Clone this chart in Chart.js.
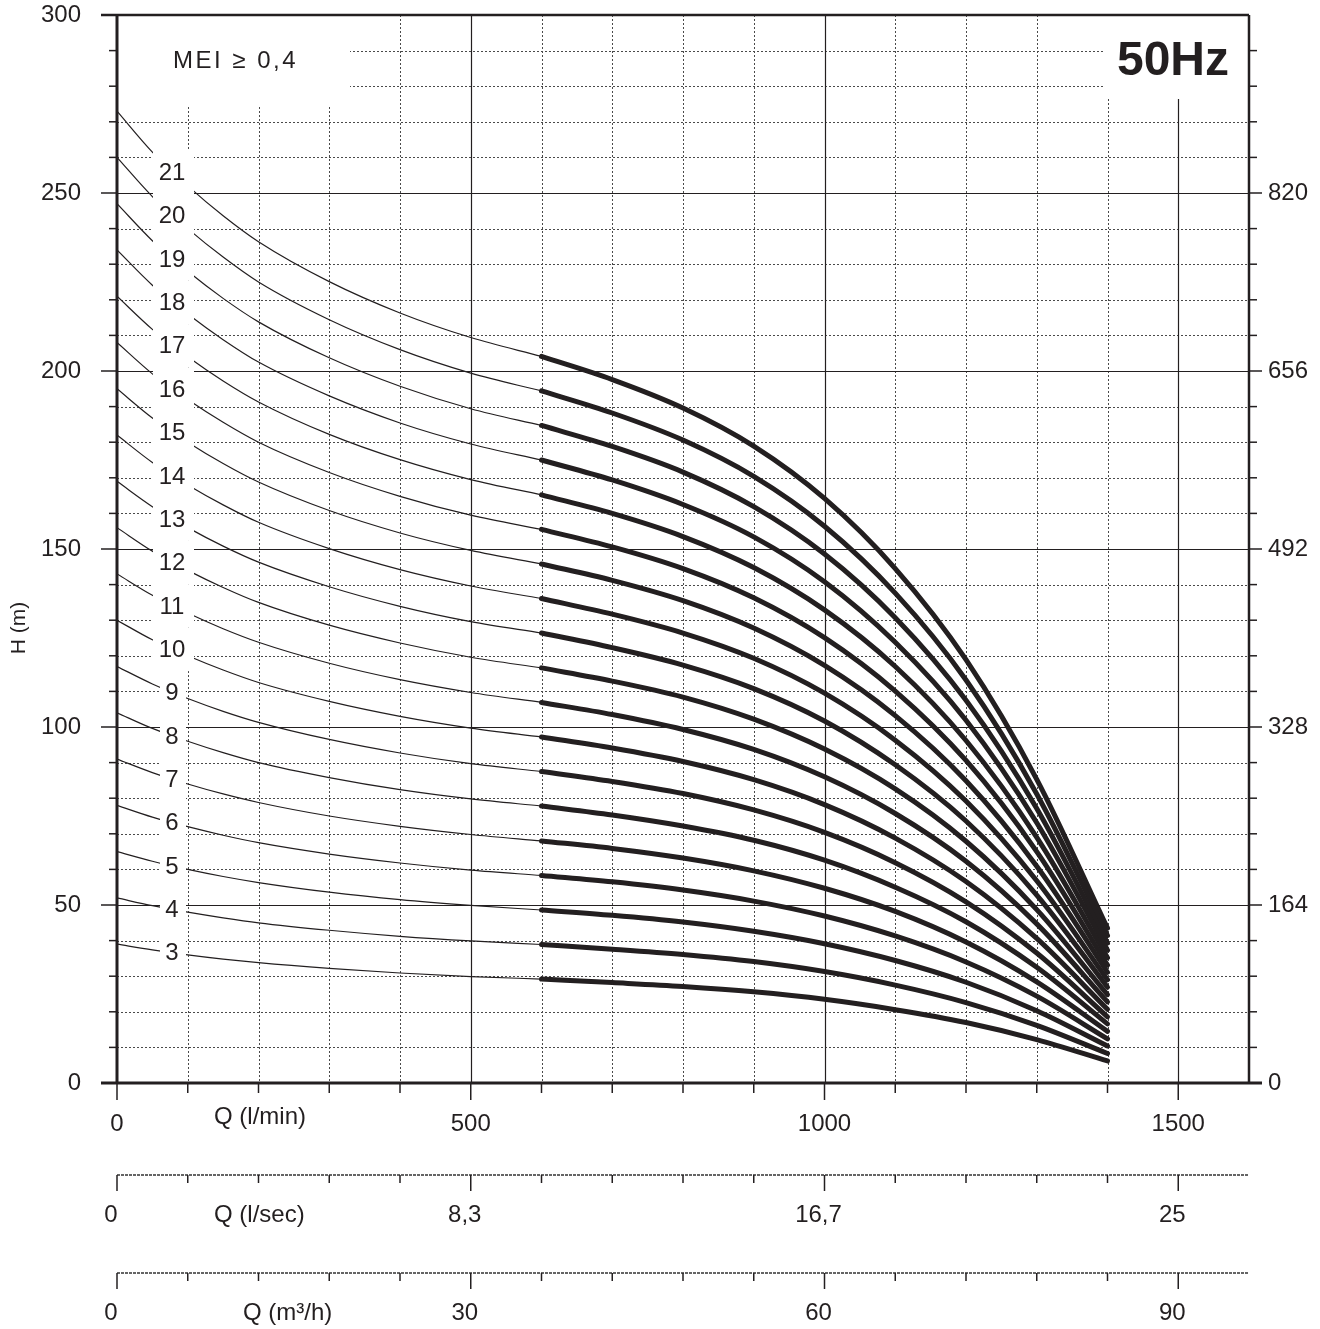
<!DOCTYPE html>
<html lang="en">
<head>
    <meta charset="UTF-8">
    <title>Pump curves 50Hz</title>
    <script src="https://cdn.jsdelivr.net/npm/chart.js"></script>
    <style>
        body { margin: 0; background: #fff; }
        #wrap { width: 1320px; height: 1329px; }
    </style>
</head>
<body>
    <div id="wrap"><canvas id="pumpChart" width="1320" height="1329"></canvas></div>

    <script>
        const qFlow = [0, 50, 100, 150, 200, 300, 400, 500, 600, 700, 800, 900, 1000, 1100, 1200, 1300, 1400];
        const qWorkStart = 600; // thick part of every curve starts here

        // head H (m) for each number of stages, one value per qFlow point
        const h3  = [39.0, 37.4, 36.0, 34.8, 33.8, 32.2, 30.9, 29.9, 29.2, 28.2, 27.1, 25.6, 23.5, 20.6, 17.0, 12.2, 6.2];
        const h4  = [52.0, 49.8, 48.0, 46.4, 45.0, 42.9, 41.2, 39.9, 38.9, 37.6, 36.1, 34.1, 31.3, 27.5, 22.6, 16.2, 8.3];
        const h5  = [65.0, 62.3, 60.0, 58.0, 56.3, 53.6, 51.5, 49.9, 48.6, 47.1, 45.2, 42.6, 39.1, 34.4, 28.3, 20.3, 10.4];
        const h6  = [78.0, 74.7, 72.0, 69.6, 67.5, 64.3, 61.8, 59.8, 58.3, 56.5, 54.2, 51.1, 46.9, 41.3, 34.0, 24.4, 12.4];
        const h7  = [91.0, 87.2, 84.0, 81.2, 78.8, 75.0, 72.1, 69.8, 68.0, 65.9, 63.2, 59.6, 54.7, 48.2, 39.6, 28.4, 14.5];
        const h8  = [104.0, 99.6, 96.0, 92.8, 90.0, 85.8, 82.4, 79.8, 77.8, 75.3, 72.2, 68.2, 62.6, 55.0, 45.3, 32.5, 16.6];
        const h9  = [117.0, 112.1, 108.0, 104.4, 101.3, 96.5, 92.7, 89.7, 87.5, 84.7, 81.3, 76.7, 70.4, 61.9, 50.9, 36.5, 18.6];
        const h10 = [130.0, 124.5, 120.0, 116.0, 112.5, 107.2, 103.0, 99.7, 97.2, 94.1, 90.3, 85.2, 78.2, 68.8, 56.6, 40.6, 20.7];
        const h11 = [143.0, 137.0, 132.0, 127.6, 123.8, 117.9, 113.3, 109.7, 106.9, 103.5, 99.3, 93.7, 86.0, 75.7, 62.3, 44.7, 22.8];
        const h12 = [156.0, 149.4, 144.0, 139.2, 135.0, 128.6, 123.6, 119.6, 116.6, 112.9, 108.4, 102.2, 93.8, 82.6, 67.9, 48.7, 24.8];
        const h13 = [169.0, 161.9, 156.0, 150.8, 146.3, 139.4, 133.9, 129.6, 126.4, 122.3, 117.4, 110.8, 101.7, 89.4, 73.6, 52.8, 26.9];
        const h14 = [182.0, 174.3, 168.0, 162.4, 157.5, 150.1, 144.2, 139.6, 136.1, 131.7, 126.4, 119.3, 109.5, 96.3, 79.2, 56.8, 29.0];
        const h15 = [195.0, 186.8, 180.0, 174.0, 168.8, 160.8, 154.5, 149.6, 145.8, 141.2, 135.5, 127.8, 117.3, 103.2, 84.9, 60.9, 31.1];
        const h16 = [208.0, 199.2, 192.0, 185.6, 180.0, 171.5, 164.8, 159.5, 155.5, 150.6, 144.5, 136.3, 125.1, 110.1, 90.6, 65.0, 33.1];
        const h17 = [221.0, 211.7, 204.0, 197.2, 191.3, 182.2, 175.1, 169.5, 165.2, 160.0, 153.5, 144.8, 132.9, 117.0, 96.2, 69.0, 35.2];
        const h18 = [234.0, 224.1, 216.0, 208.8, 202.5, 193.0, 185.4, 179.5, 175.0, 169.4, 162.5, 153.4, 140.8, 123.8, 101.9, 73.1, 37.3];
        const h19 = [247.0, 236.6, 228.0, 220.4, 213.8, 203.7, 195.7, 189.4, 184.7, 178.8, 171.6, 161.9, 148.6, 130.7, 107.5, 77.1, 39.3];
        const h20 = [260.0, 249.0, 240.0, 232.0, 225.0, 214.4, 206.0, 199.4, 194.4, 188.2, 180.6, 170.4, 156.4, 137.6, 113.2, 81.2, 41.4];
        const h21 = [273.0, 261.5, 252.0, 243.6, 236.3, 225.1, 216.3, 209.4, 204.1, 197.6, 189.6, 178.9, 164.2, 144.5, 118.9, 85.3, 43.5];

        const stages = [3, 4, 5, 6, 7, 8, 9, 10, 11, 12, 13, 14, 15, 16, 17, 18, 19, 20, 21];
        const stageHeads = [h3, h4, h5, h6, h7, h8, h9, h10, h11, h12, h13, h14, h15, h16, h17, h18, h19, h20, h21];

        // axes
        const qTicks = [0, 500, 1000, 1500];             // l/min
        const hTicks = [0, 50, 100, 150, 200, 250, 300]; // m
        const ftTicks = [0, 164, 328, 492, 656, 820];    // ft, right side
        const lsecLabels = ['0', '8,3', '16,7', '25'];   // at the qTicks positions
        const m3hLabels = ['0', '30', '60', '90'];

        const ink = '#231f20';
        const fontName = '"Liberation Sans", Arial, sans-serif';

        let datasets = [];
        stages.forEach((st, i) => {
            let pts = qFlow.map((q, j) => ({ x: q, y: stageHeads[i][j] }));
            datasets.push({
                label: st + ' (low flow)',
                data: pts.filter(p => p.x <= qWorkStart),
                borderColor: ink, borderWidth: 1.2,
                pointRadius: 0, cubicInterpolationMode: 'monotone'
            });
            datasets.push({
                label: String(st),
                data: pts.filter(p => p.x >= qWorkStart),
                borderColor: ink, borderWidth: 5,
                borderCapStyle: 'round', borderJoinStyle: 'round',
                pointRadius: 0, cubicInterpolationMode: 'monotone'
            });
        });

        function line(ctx, x1, y1, x2, y2) {
            ctx.beginPath();
            ctx.moveTo(x1, y1);
            ctx.lineTo(x2, y2);
            ctx.stroke();
        }

        // keep the plot area where the axes say, not pushed in by label padding
        function noPad(s) {
            s.paddingTop = 0; s.paddingBottom = 0;
            s.paddingLeft = 0; s.paddingRight = 0;
        }

        // grid under the curves, with the white corners for the two captions
        const gridPlugin = {
            id: 'pumpGrid',
            beforeDatasetsDraw(chart) {
                const { ctx, chartArea: a, scales: { x, y } } = chart;
                ctx.save();
                ctx.lineWidth = 1;
                ctx.strokeStyle = '#4a4a4a';
                ctx.setLineDash([2, 2]);
                for (let q = 100; q < 1600; q += 100) {
                    if (q % 500 === 0) continue;
                    let px = Math.round(x.getPixelForValue(q)) + 0.5;
                    line(ctx, px, a.top, px, a.bottom);
                }
                for (let h = 10; h < 300; h += 10) {
                    if (h % 50 === 0) continue;
                    let py = Math.round(y.getPixelForValue(h)) + 0.5;
                    line(ctx, a.left, py, a.right, py);
                }
                ctx.setLineDash([]);
                ctx.strokeStyle = ink;
                ctx.lineWidth = 1.2;
                [500, 1000, 1500].forEach(q => {
                    let px = Math.round(x.getPixelForValue(q)) + 0.5;
                    line(ctx, px, a.top, px, a.bottom);
                });
                [50, 100, 150, 200, 250].forEach(h => {
                    let py = Math.round(y.getPixelForValue(h)) + 0.5;
                    line(ctx, a.left, py, a.right, py);
                });
                ctx.fillStyle = '#fff';
                ctx.fillRect(a.left, a.top, 233, 90);
                ctx.fillRect(a.right - 145, a.top, 145, 84);
                ctx.restore();
            },
            afterDatasetsDraw(chart) {
                const { ctx, chartArea: a, scales: { x, y } } = chart;
                ctx.save();

                // stage numbers sitting on the thin curves
                ctx.font = '24px ' + fontName;
                ctx.textAlign = 'center';
                ctx.textBaseline = 'middle';
                stages.forEach((st, i) => {
                    let pts = chart.getDatasetMeta(2 * i).data;
                    let yl = pts[1].y * 0.4 + pts[2].y * 0.6;
                    let wide = st >= 10;
                    ctx.fillStyle = '#fff';
                    ctx.fillRect(wide ? a.left + 36 : a.left + 43, yl - 21.7, wide ? 41 : 26, 43.4);
                    ctx.fillStyle = ink;
                    ctx.fillText(String(st), a.left + 55, yl + 1);
                });

                // frame
                ctx.strokeStyle = ink;
                ctx.lineWidth = 3;
                line(ctx, a.left, a.top, a.left, a.bottom);
                line(ctx, a.left - 16, a.bottom, a.right + 13, a.bottom);
                ctx.lineWidth = 2.5;
                line(ctx, a.left - 16, a.top, a.right, a.top);
                line(ctx, a.right, a.top, a.right, a.bottom);

                // tick marks
                ctx.lineWidth = 1.5;
                for (let h = 0; h <= 300; h += 10) {
                    let py = y.getPixelForValue(h);
                    line(ctx, a.left - (h % 50 === 0 ? 16 : 8), py, a.left, py);
                    if (h > 0 && h < 300) line(ctx, a.right, py, a.right + (h % 50 === 0 ? 13 : 8), py);
                }
                for (let q = 0; q <= 1500; q += 100) {
                    let px = x.getPixelForValue(q);
                    line(ctx, px, a.bottom, px, a.bottom + (q % 500 === 0 ? 17 : 10));
                }

                // second and third flow axes (l/sec, m3/h)
                const extra = [
                    { top: a.bottom + 92, labels: lsecLabels, name: 'Q (l/sec)', nameX: a.left + 97 },
                    { top: a.bottom + 190, labels: m3hLabels, name: 'Q (m\u00b3/h)', nameX: a.left + 126 }
                ];
                extra.forEach(ax => {
                    ctx.strokeStyle = '#333';
                    ctx.lineWidth = 1.3;
                    ctx.setLineDash([3, 1]);
                    line(ctx, a.left, ax.top, a.right, ax.top);
                    ctx.setLineDash([]);
                    ctx.strokeStyle = ink;
                    ctx.lineWidth = 1.5;
                    for (let q = 0; q <= 1500; q += 100) {
                        let px = x.getPixelForValue(q);
                        line(ctx, px, ax.top, px, ax.top + (q % 500 === 0 ? 16 : 8));
                    }
                    ctx.fillStyle = ink;
                    ctx.font = '24px ' + fontName;
                    ctx.textAlign = 'center';
                    ctx.textBaseline = 'middle';
                    ax.labels.forEach((lab, k) => {
                        ctx.fillText(lab, x.getPixelForValue(qTicks[k]) - 6, ax.top + 40);
                    });
                    ctx.textAlign = 'left';
                    ctx.fillText(ax.name, ax.nameX, ax.top + 40);
                });

                ctx.fillStyle = ink;
                ctx.font = '24px ' + fontName;
                ctx.textAlign = 'left';
                ctx.textBaseline = 'middle';
                ctx.fillText('Q (l/min)', a.left + 97, a.bottom + 34);

                // axis title
                ctx.save();
                ctx.font = '21px ' + fontName;
                ctx.textAlign = 'center';
                ctx.translate(19, 628);
                ctx.rotate(-Math.PI / 2);
                ctx.fillText('H (m)', 0, 0);
                ctx.restore();

                // captions
                ctx.font = '24px ' + fontName;
                ctx.letterSpacing = '2.5px';
                ctx.fillText('MEI \u2265 0,4', a.left + 56, a.top + 46);
                ctx.letterSpacing = '0px';
                ctx.font = 'bold 48px ' + fontName;
                ctx.textAlign = 'right';
                ctx.fillText('50Hz', a.right - 20, a.top + 47);
                ctx.restore();
            }
        };

        new Chart(document.getElementById('pumpChart'), {
            type: 'line',
            data: { datasets: datasets },
            options: {
                responsive: false,
                animation: false,
                layout: { padding: { top: 15, left: 0, right: 0, bottom: 0 } },
                plugins: { legend: { display: false }, tooltip: { enabled: false } },
                scales: {
                    x: {
                        type: 'linear', min: 0, max: 1600,
                        grid: { display: false, drawTicks: false },
                        border: { display: false },
                        afterBuildTicks: s => { s.ticks = qTicks.map(v => ({ value: v })); },
                        afterFit: s => { s.height = 246; noPad(s); },
                        ticks: {
                            autoSkip: false, maxRotation: 0, padding: 27, color: ink,
                            font: { size: 24, family: fontName },
                            callback: v => String(v)
                        }
                    },
                    y: {
                        position: 'left', min: 0, max: 300,
                        grid: { display: false, drawTicks: false },
                        border: { display: false },
                        afterBuildTicks: s => { s.ticks = hTicks.map(v => ({ value: v })); },
                        afterFit: s => { s.width = 117; noPad(s); },
                        ticks: { padding: 36, color: ink, font: { size: 24, family: fontName }, callback: v => String(v) }
                    },
                    y2: {
                        position: 'right', min: 0, max: 984,
                        grid: { display: false, drawTicks: false },
                        border: { display: false },
                        afterBuildTicks: s => { s.ticks = ftTicks.map(v => ({ value: v })); },
                        afterFit: s => { s.width = 71; noPad(s); },
                        ticks: { padding: 19, color: ink, font: { size: 24, family: fontName }, callback: v => String(v) }
                    }
                }
            },
            plugins: [gridPlugin]
        });
    </script>
</body>
</html>
